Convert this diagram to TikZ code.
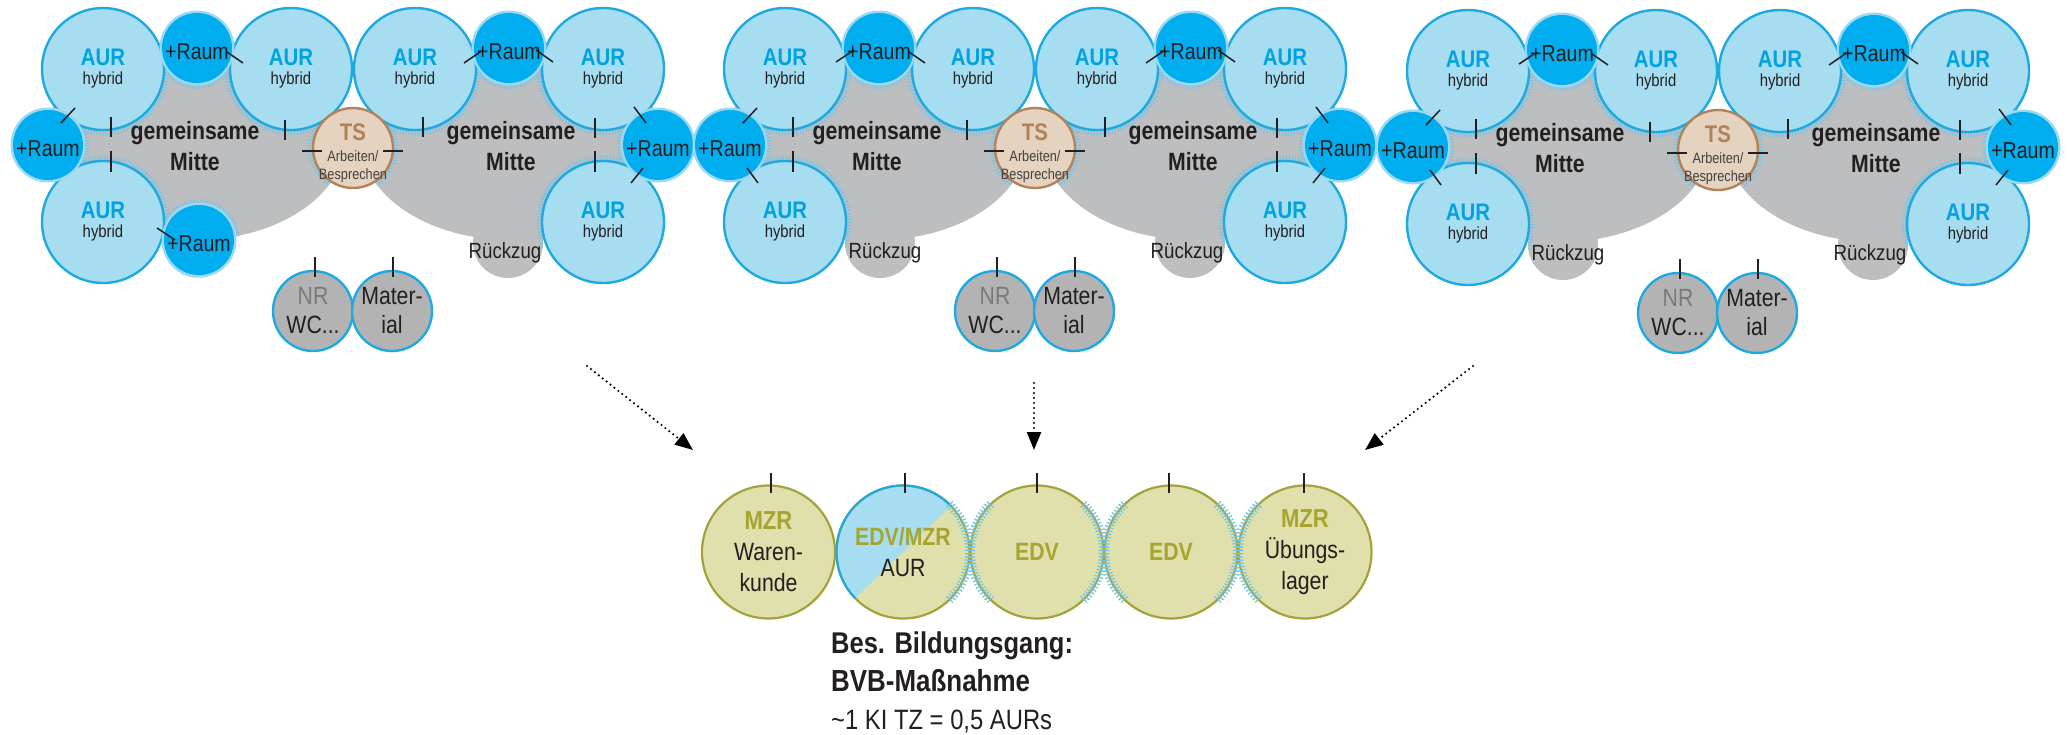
\documentclass[tikz,border=0pt]{standalone}
\usepackage{fontspec}
\setmainfont{Liberation Sans}[FakeStretch=0.85, BoldFeatures={FakeStretch=0.85}]
\usetikzlibrary{arrows.meta}
\definecolor{aurfill}{HTML}{A6DDF1}
\definecolor{aurline}{HTML}{1FA9E1}
\definecolor{raumfill}{HTML}{00AEEF}
\definecolor{halocol}{HTML}{9BD8F2}
\definecolor{ticktone}{HTML}{6FC6EA}
\definecolor{graybg}{HTML}{BCBEC0}
\definecolor{tsfill}{HTML}{E5D2BF}
\definecolor{tsline}{HTML}{B2835A}
\definecolor{tstext}{HTML}{AF8258}
\definecolor{nrfill}{HTML}{B3B3B3}
\definecolor{nrtext}{HTML}{7A7A7A}
\definecolor{ink}{HTML}{231F20}
\definecolor{olfill}{HTML}{DFE0AC}
\definecolor{olline}{HTML}{A4A23A}
\definecolor{oltext}{HTML}{A7A42F}
\definecolor{aurtext}{HTML}{00A3E0}
\newcommand\fsz[2]{\fontsize{#1}{#2}\selectfont}
\newcommand\aurlbl{{\fsz{24}{19}\bfseries\color{aurtext}AUR}\\hybrid}
\tikzset{
  aur/.style={circle, fill=aurfill, draw=aurline, line width=2.4pt, minimum size=122pt, inner sep=0pt, align=center, text=ink, font=\fsz{17.5}{19}},
  raum/.style={circle, fill=raumfill, minimum size=70pt, inner sep=0pt, text=ink, font=\fsz{23}{23}, text height=23.5pt, text depth=0pt},
  tsc/.style={circle, fill=tsfill, draw=tsline, line width=2.4pt, minimum size=80pt, inner sep=0pt},
  tslbl/.style={align=center, inner sep=0pt, text=ink!85, font=\fsz{15}{18}},
  nrc/.style={circle, fill=nrfill, draw=aurline, line width=2.4pt, minimum size=80pt, inner sep=0pt, align=center, font=\fsz{25}{29}, text=ink},
  olc/.style={circle, fill=olfill, draw=olline, line width=2.2pt, minimum size=133pt, inner sep=0pt, align=center, font=\fsz{25}{31}, text=ink},
  gm/.style={anchor=base, inner sep=0pt, text=ink, font=\fsz{25}{25}\bfseries},
  rz/.style={anchor=base, inner sep=0pt, text=ink, font=\fsz{22}{22}},
  tickring/.style={draw=ticktone, line width=6pt, dash pattern=on 1pt off 2pt},
  tickarc/.style={draw=ticktone, line width=9pt, dash pattern=on 1.2pt off 2.2pt},
  door/.style={draw=ink, line width=1.5pt},
  dotarrow/.style={draw=black, line width=2.4pt, dash pattern=on 0pt off 5pt, line cap=round, -{Triangle[length=18pt,width=14pt]}},
  btxt/.style={anchor=base west, inner sep=0pt, text=ink}
}
\newcommand\drawpanel[4]{%
\begin{scope}[shift={(#2,#3)}]
  \fill[graybg] (195,140) ellipse [x radius=150, y radius=100];
  \fill[graybg] (511,140) ellipse [x radius=150, y radius=100];
  \fill[graybg] (508,243) circle [radius=35];
  \ifnum#4=0 \fill[graybg] (198,243) circle [radius=35]; \fi
  \begin{scope}
    \clip (195,140) ellipse [x radius=150, y radius=100] (511,140) ellipse [x radius=150, y radius=100] (198,243) circle [radius=35] (508,243) circle [radius=35];
    \foreach \cx/\cy in {103/69, 291/69, 103/222, 415/69, 603/69, 603/222}
      \draw[tickring] (\cx,\cy) circle [radius=63.5];
    \foreach \cx/\cy in {197/48, 48/145, 509/48, 658/145}
      \draw[tickring] (\cx,\cy) circle [radius=38];
    \ifnum#4=1 \draw[tickring] (199,240) circle [radius=38]; \fi
    \draw[tickring] (353,148) circle [radius=42.5];
  \end{scope}
  \node[aur] (#1a1) at (103,69) {\aurlbl};
  \node[aur] (#1a2) at (291,69) {\aurlbl};
  \node[aur] (#1a3) at (103,222) {\aurlbl};
  \node[aur] (#1a4) at (415,69) {\aurlbl};
  \node[aur] (#1a5) at (603,69) {\aurlbl};
  \node[aur] (#1a6) at (603,222) {\aurlbl};
  \foreach \cx/\cy in {197/48, 48/145, 509/48, 658/145}
    \fill[halocol] (\cx,\cy) circle [radius=37.5];
  \node[raum] (#1r1) at (197,48) {+Raum};
  \node[raum] (#1r2) at (48,145) {+Raum};
  \node[raum] (#1r3) at (509,48) {+Raum};
  \node[raum] (#1r4) at (658,145) {+Raum};
  \ifnum#4=1
    \fill[halocol] (199,240) circle [radius=37.5];
    \node[raum] (#1r5) at (199,240) {+Raum};
  \fi
  \node[tsc] (#1ts) at (353,148) {};
  \node[tslbl] (#1tsl) at (353,153) {{\fsz{24}{18}\bfseries\color{tstext}TS}\\[2.5pt]Arbeiten/\\Besprechen};
  \node[gm] (#1g1) at (195,139.5) {gemeinsame};
  \node[gm] (#1m1) at (195,170) {Mitte};
  \node[gm] (#1g2) at (511,139.5) {gemeinsame};
  \node[gm] (#1m2) at (511,170) {Mitte};
  \node[rz] (#1rz2) at (505,258) {Rückzug};
  \ifnum#4=0 \node[rz] (#1rz1) at (203,258) {Rückzug}; \fi
  \node[nrc] (#1nr) at (313,311) {{\color{nrtext}NR}\\WC...};
  \node[nrc] (#1mat) at (392,311) {Mater-\\ial};
  % door ticks
  \draw[door] (111,117) -- (111,137);
  \draw[door] (111,151) -- (111,172);
  \draw[door] (285,120) -- (285,140);
  \draw[door] (423,117) -- (423,137);
  \draw[door] (595,118) -- (595,138);
  \draw[door] (595,151) -- (595,172);
  \draw[door] (302,151) -- (322,151);
  \draw[door] (383,151) -- (403,151);
  \draw[door] (227,52) -- (243,63);
  \draw[door] (61,123) -- (75,108);
  \draw[door] (464,63) -- (483,50);
  \draw[door] (536,50) -- (553,62);
  \draw[door] (634,107) -- (646,123);
  \draw[door] (631,183) -- (643,168);
  \draw[door] (315,257) -- (315,277);
  \draw[door] (393,257) -- (393,277);
  \ifnum#4=1
    \draw[door] (157,228) -- (175,240);
  \else
    \draw[door] (154,62) -- (172,50);
    \draw[door] (65,168) -- (76,183);
  \fi
\end{scope}}
\begin{document}
\begin{tikzpicture}[x=1pt, y=-1pt]
\useasboundingbox (0,0) rectangle (2071,734);
\drawpanel{P}{0}{0}{1}
\drawpanel{Q}{682}{0}{0}
\drawpanel{R}{1365}{2}{0}
% bottom row
\node[olc] (b1) at (768.5,552) {{\fsz{26}{31}\bfseries\color{oltext}MZR}\\Waren-\\kunde};
\node[olc, path picture={\fill[aurfill] (path picture bounding box.center) ++(-44:80) arc [start angle=-44, end angle=-224, radius=80] -- cycle;}] (b2) at (903,552) {{\fsz{25}{30}\bfseries\color{oltext}EDV/MZR}\\AUR};
\draw[aurline, line width=2.2pt] (b2.center) ++(-44:66.5) arc [start angle=-44, end angle=-224, radius=66.5];
\node[olc] (b3) at (1037,552) {{\fsz{25}{31}\bfseries\color{oltext}EDV}};
\node[olc] (b4) at (1171,552) {{\fsz{25}{31}\bfseries\color{oltext}EDV}};
\node[olc] (b5) at (1305,552) {{\fsz{26}{31}\bfseries\color{oltext}MZR}\\Übungs-\\lager};
\draw[tickarc] (b2.center) ++(-46:66.5) arc [start angle=-46, end angle=46, radius=66.5];
\draw[tickarc] (b3.center) ++(134:66.5) arc [start angle=134, end angle=226, radius=66.5];
\draw[tickarc] (b3.center) ++(-46:66.5) arc [start angle=-46, end angle=46, radius=66.5];
\draw[tickarc] (b4.center) ++(134:66.5) arc [start angle=134, end angle=226, radius=66.5];
\draw[tickarc] (b4.center) ++(-46:66.5) arc [start angle=-46, end angle=46, radius=66.5];
\draw[tickarc] (b5.center) ++(134:66.5) arc [start angle=134, end angle=226, radius=66.5];
\draw[door] (771,473) -- (771,493);
\draw[door] (905,473) -- (905,493);
\draw[door] (1037,473) -- (1037,493);
\draw[door] (1169,473) -- (1169,493);
\draw[door] (1304,473) -- (1304,493);
% arrows
\coordinate (s1) at (587,366); \coordinate (e1) at (693,450);
\coordinate (s2) at (1034,383); \coordinate (e2) at (1034,450);
\coordinate (s3) at (1473,366); \coordinate (e3) at (1365,450);
\draw[dotarrow] (s1) -- (e1);
\draw[dotarrow] (s2) -- (e2);
\draw[dotarrow] (s3) -- (e3);
% caption
\node[btxt, font=\fsz{30}{30}\bfseries] (t1) at (831,653) {Bes. Bildungsgang:};
\node[btxt, font=\fsz{30.5}{30}\bfseries] (t2) at (831,691) {BVB-Maßnahme};
\node[btxt, font=\fsz{28}{28}] (t3) at (831,729) {\textasciitilde 1 KI TZ = 0,5 AURs};
\end{tikzpicture}
\end{document}
